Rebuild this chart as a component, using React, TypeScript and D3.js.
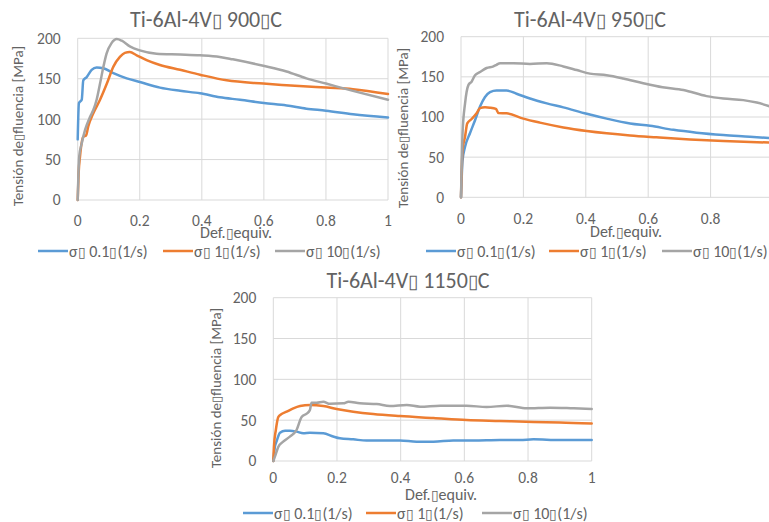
import React, { useEffect, useRef } from 'react';
import * as d3 from 'd3';

type Pt = [number, number];

// strain (Def. equiv.) vs stress (MPa)
const s900_01: Pt[] = [[0,75],[0.004,120],[0.013,124],[0.018,148],[0.029,152],[0.045,161],[0.061,164],[0.083,163],[0.115,157],[0.158,150.5],[0.2,146],[0.265,139],[0.33,135],[0.394,132],[0.458,127],[0.523,124],[0.6,120],[0.673,117],[0.737,113],[0.8,110.5],[0.887,106],[1,102]];
const s900_1: Pt[] = [[0,0],[0.003,33],[0.0075,54],[0.018,78],[0.027,80],[0.034,91],[0.05,107],[0.072,124],[0.094,144],[0.115,165],[0.136,177],[0.152,182],[0.168,183],[0.19,179],[0.222,173],[0.265,167],[0.33,161],[0.394,155],[0.48,148],[0.598,144],[0.673,142],[0.8,139],[0.887,137],[1,131]];
const s900_10: Pt[] = [[0,0],[0.005,54],[0.013,70],[0.024,87],[0.04,103],[0.05,111],[0.061,124],[0.072,144],[0.083,165],[0.093,181],[0.109,194],[0.126,199],[0.142,197],[0.168,190],[0.2,185],[0.254,181],[0.33,180],[0.394,179],[0.458,177],[0.5,174],[0.598,166],[0.673,159],[0.737,150.5],[0.8,144],[0.887,135],[1,124]];

const s950_01: Pt[] = [[0,0],[0.005,46],[0.013,63],[0.029,80],[0.045,96],[0.061,113],[0.077,125],[0.093,131],[0.114,133],[0.146,133],[0.178,129],[0.221,123],[0.275,117],[0.328,112],[0.403,104],[0.467,98],[0.542,92],[0.606,89],[0.681,84],[0.755,80.5],[0.841,77.6],[0.926,75.5],[1,73.4]];
const s950_1: Pt[] = [[0,0],[0.005,59],[0.013,75.5],[0.02,92],[0.034,97.5],[0.05,104.6],[0.061,111],[0.077,112],[0.093,111.6],[0.112,110],[0.12,105],[0.146,104.6],[0.2,98],[0.253,93],[0.328,87],[0.403,82.6],[0.467,79.7],[0.542,77],[0.626,74.7],[0.734,72],[0.841,70],[1,68]];
const s950_10: Pt[] = [[0,0],[0.005,80],[0.013,117],[0.024,140],[0.034,144],[0.045,152],[0.061,156],[0.082,161],[0.104,163],[0.114,165],[0.125,167],[0.168,167],[0.221,166],[0.275,167],[0.328,163],[0.371,158.5],[0.413,154],[0.467,152],[0.52,148],[0.584,142],[0.646,137],[0.713,133.6],[0.787,126],[0.841,123],[0.905,121],[0.948,118],[1,112]];

const s1150_01: Pt[] = [[0,0],[0.005,17.5],[0.01,23.7],[0.021,34.7],[0.037,37],[0.052,37],[0.073,36],[0.094,34],[0.115,34.7],[0.157,34],[0.188,30],[0.209,27.8],[0.251,26.5],[0.293,25],[0.346,25],[0.398,25],[0.45,23.7],[0.503,23.7],[0.565,25],[0.628,25],[0.712,25.7],[0.775,25.7],[0.817,26.5],[0.9,25.7],[1,25.7]];
const s1150_1: Pt[] = [[0,0],[0.002,17.5],[0.008,38],[0.016,54],[0.026,57.5],[0.042,60.4],[0.063,64.5],[0.084,67.3],[0.115,68.6],[0.157,67.3],[0.199,63.7],[0.251,60.4],[0.314,57.5],[0.398,55],[0.503,52.6],[0.607,50.2],[0.712,49],[0.817,47.8],[0.9,47.3],[1,46]];
const s1150_10: Pt[] = [[0,0],[0.005,5.3],[0.016,17.5],[0.031,23.7],[0.052,29.8],[0.073,38],[0.089,54],[0.105,58],[0.115,62.4],[0.12,71.4],[0.136,71.4],[0.157,72.6],[0.178,70],[0.22,70.6],[0.236,72.6],[0.272,70.6],[0.325,69.8],[0.366,67.3],[0.419,68.6],[0.461,66.5],[0.524,67.8],[0.607,67.8],[0.67,66],[0.733,67.8],[0.796,64.5],[0.869,65.3],[0.942,64.5],[1,63.7]];

const titles = ['Ti-6Al-4V\u25AF 900\u25AFC', 'Ti-6Al-4V\u25AF 950\u25AFC', 'Ti-6Al-4V\u25AF 1150\u25AFC'];
const seriesNames = ['\u03C3\u25AF 0.1\u25AF(1/s)', '\u03C3\u25AF 1\u25AF(1/s)', '\u03C3\u25AF 10\u25AF(1/s)'];
const xTicks = [0, 0.2, 0.4, 0.6, 0.8, 1];
const yTicks = [0, 50, 100, 150, 200];
const yLabel = 'Tensi\u00F3n de\u25AFfluencia [MPa]';
const xLabel = 'Def.\u25AFequiv.';

const colors = ['#5B9BD5', '#ED7D31', '#A5A5A5'];
const FONT = "Carlito, Calibri, 'Open Sans', sans-serif";
const TEXT = '#636363';

const panels = [
  { data: [s900_01, s900_1, s900_10], left: 77.7, right: 388, top: 38.3, bottom: 200,
    titleX: 206, titleY: 27, yTitleX: 23, yTitleY: 126, xTitleX: 236, xTitleY: 238, tickY: 226,
    legendY: 251, legendX: [38, 163, 275] },
  { data: [s950_01, s950_1, s950_10], left: 461, right: 773, top: 36.7, bottom: 197.3,
    titleX: 590, titleY: 27, yTitleX: 408, yTitleY: 128, xTitleX: 626, xTitleY: 237, tickY: 224,
    legendY: 251, legendX: [426, 549, 662] },
  { data: [s1150_01, s1150_1, s1150_10], left: 273.3, right: 591.7, top: 297.7, bottom: 461,
    titleX: 408, titleY: 288, yTitleX: 221, yTitleY: 388, xTitleX: 441, xTitleY: 500, tickY: 483,
    legendY: 513, legendX: [243, 366, 482] },
];

// the missing-glyph boxes are drawn a bit smaller than the letters
function writeText(sel: d3.Selection<SVGTextElement, unknown, null, undefined>, s: string) {
  s.split('\u25AF').forEach((part, i) => {
    if (i > 0) sel.append('tspan').attr('font-size', '0.85em').text('\u25AF');
    if (part) sel.append('tspan').text(part);
  });
}

export default function App() {
  const svgRef = useRef<SVGSVGElement>(null);

  useEffect(() => {
    const svg = d3.select(svgRef.current);
    svg.selectAll('*').remove();
    svg.append('rect').attr('width', 769).attr('height', 522).attr('fill', '#fff');

    panels.forEach((p, pi) => {
      const x = d3.scaleLinear().domain([0, 1]).range([p.left, p.right]);
      const y = d3.scaleLinear().domain([0, 200]).range([p.bottom, p.top]);
      const g = svg.append('g').style('font-family', FONT);

      // grid
      g.selectAll('line.h').data(yTicks).join('line')
        .attr('x1', p.left).attr('x2', p.right)
        .attr('y1', d => y(d)).attr('y2', d => y(d))
        .attr('stroke', '#d9d9d9').attr('stroke-width', 1);
      g.selectAll('line.v').data(xTicks).join('line')
        .attr('x1', d => x(d)).attr('x2', d => x(d))
        .attr('y1', p.top).attr('y2', p.bottom)
        .attr('stroke', '#d9d9d9').attr('stroke-width', 1);

      // tick labels
      g.selectAll('text.yt').data(yTicks).join('text')
        .attr('x', p.left - 17).attr('y', d => y(d)).attr('dy', '0.35em')
        .attr('text-anchor', 'end').attr('font-size', 15.5).attr('fill', TEXT)
        .text(d => d);
      g.selectAll('text.xt').data(xTicks).join('text')
        .attr('x', d => x(d)).attr('y', p.tickY)
        .attr('text-anchor', 'middle').attr('font-size', 15.5).attr('fill', TEXT)
        .text(d => d3.format('~g')(d));

      // titles
      writeText(g.append('text').attr('x', p.titleX).attr('y', p.titleY).attr('text-anchor', 'middle')
        .attr('font-size', 22).attr('fill', TEXT), titles[pi]);
      writeText(g.append('text').attr('transform', `translate(${p.yTitleX},${p.yTitleY}) rotate(-90)`)
        .attr('text-anchor', 'middle').attr('font-size', 15).attr('fill', TEXT), yLabel);
      writeText(g.append('text').attr('x', p.xTitleX).attr('y', p.xTitleY).attr('text-anchor', 'middle')
        .attr('font-size', 16).attr('fill', TEXT), xLabel);

      // series
      const line = d3.line<Pt>().x(d => x(d[0])).y(d => y(d[1])).curve(d3.curveMonotoneX);
      p.data.forEach((s, si) => {
        g.append('path').attr('d', line(s)).attr('fill', 'none')
          .attr('stroke', colors[si]).attr('stroke-width', 2.5)
          .attr('stroke-linejoin', 'round').attr('stroke-linecap', 'round');
      });

      // legend
      seriesNames.forEach((name, si) => {
        const lx = p.legendX[si];
        g.append('line').attr('x1', lx).attr('x2', lx + 30)
          .attr('y1', p.legendY).attr('y2', p.legendY)
          .attr('stroke', colors[si]).attr('stroke-width', 2.5);
        writeText(g.append('text').attr('x', lx + 31).attr('y', p.legendY).attr('dy', '0.35em')
          .attr('font-size', 16).attr('fill', TEXT), name);
      });
    });
  }, []);

  return (
    <svg ref={svgRef} width={769} height={522}
      style={{ position: 'absolute', left: 0, top: 0 }} />
  );
}
